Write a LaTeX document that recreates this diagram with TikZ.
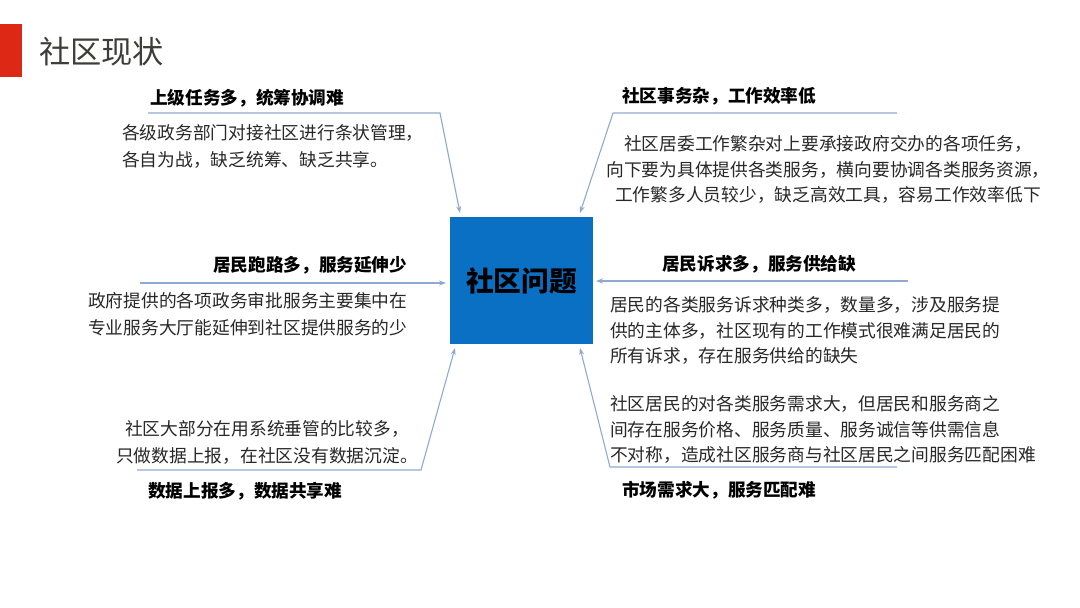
\documentclass[tikz,border=0pt]{standalone}
\usepackage{fontspec}
\newfontfamily\cjk{Noto Sans CJK SC}
\usetikzlibrary{arrows.meta}
\definecolor{boxblue}{RGB}{10,112,196}
\definecolor{linec}{RGB}{143,170,210}
\definecolor{titlered}{RGB}{220,40,20}
\definecolor{bodyc}{RGB}{40,40,40}
\definecolor{titlec}{RGB}{60,62,55}
\tikzset{
  conn/.style={draw=linec, line width=1.1pt, -{Stealth[length=7pt,width=5pt]}},
  head/.style={font=\cjk\bfseries\fontsize{17.7}{21}\selectfont, text=black, inner sep=0pt},
  body/.style={font=\cjk\fontsize{17.8}{27}\selectfont, text=bodyc, inner sep=0pt},
  bodyr/.style={font=\cjk\fontsize{17.8}{25.5}\selectfont, text=bodyc, inner sep=0pt},
}
\begin{document}
\begin{tikzpicture}[x=1bp,y=-1bp]
\useasboundingbox (0,0) rectangle (1080,608);
\fill[white] (0,0) rectangle (1080,608);
% title
\fill[titlered] (0,24) rectangle (22,77);
\node[font=\cjk\fontsize{31.3}{34}\selectfont, text=titlec, anchor=west, inner sep=0pt] (title) at (39,52) {社区现状};
% center box
\node[fill=boxblue, minimum width=143bp, minimum height=127bp, inner sep=0pt,
      font=\cjk\bfseries\fontsize{27.8}{31}\selectfont, text=black] (box) at (521.5,280.5) {社区问题};
% arrow tips
\coordinate (tTL) at (460,213);
\coordinate (tTR) at (580,213);
\coordinate (tML) at (446,283);
\coordinate (tMR) at (596,281);
\coordinate (tBL) at (455,348);
\coordinate (tBR) at (580,348);
% top-left
\node[head, anchor=west] (hTL) at (150,98) {上级任务多，统筹协调难};
\coordinate (aTL) at (148,113);
\coordinate (bTL) at (440,113);
\draw[conn] (aTL) -- (bTL) -- (tTL);
\node[body, align=left, anchor=north west] (xTL) at (122,124.5) {各级政务部门对接社区进行条状管理，\\各自为战，缺乏统筹、缺乏共享。};
% top-right
\node[head, anchor=west] (hTR) at (622,96) {社区事务杂，工作效率低};
\coordinate (aTR) at (897,113);
\coordinate (bTR) at (613,113);
\draw[conn] (aTR) -- (bTR) -- (tTR);
\node[bodyr, align=center, anchor=north] (xTR) at (828,135.5) {社区居委工作繁杂对上要承接政府交办的各项任务，\\向下要为具体提供各类服务，横向要协调各类服务资源，\\工作繁多人员较少，缺乏高效工具，容易工作效率低下};
% middle-left
\node[head, anchor=west] (hML) at (213,265) {居民跑路多，服务延伸少};
\coordinate (aML) at (140,283);
\draw[conn] (aML) -- (tML);
\node[body, align=left, anchor=north west] (xML) at (88,292.5) {政府提供的各项政务审批服务主要集中在\\专业服务大厅能延伸到社区提供服务的少};
% middle-right
\node[head, anchor=west] (hMR) at (662,264) {居民诉求多，服务供给缺};
\coordinate (aMR) at (908,281);
\draw[conn] (aMR) -- (tMR);
\node[bodyr, align=left, anchor=north west] (xMR) at (610,296.5) {居民的各类服务诉求种类多，数量多，涉及服务提\\供的主体多，社区现有的工作模式很难满足居民的\\所有诉求，存在服务供给的缺失};
% bottom-left
\node[body, align=center, anchor=north] (xBL) at (267,420.5) {社区大部分在用系统垂管的比较多，\\只做数据上报，在社区没有数据沉淀。};
\coordinate (aBL) at (137,470);
\coordinate (bBL) at (421,470);
\draw[conn] (aBL) -- (bBL) -- (tBL);
\node[head, anchor=west] (hBL) at (148,491) {数据上报多，数据共享难};
% bottom-right
\node[bodyr, align=left, anchor=north west] (xBR) at (610,395.5) {社区居民的对各类服务需求大，但居民和服务商之\\间存在服务价格、服务质量、服务诚信等供需信息\\不对称，造成社区服务商与社区居民之间服务匹配困难};
\coordinate (aBR) at (897,467);
\coordinate (bBR) at (610,467);
\draw[conn] (aBR) -- (bBR) -- (tBR);
\node[head, anchor=west] (hBR) at (622,490) {市场需求大，服务匹配难};
\end{tikzpicture}
\end{document}
